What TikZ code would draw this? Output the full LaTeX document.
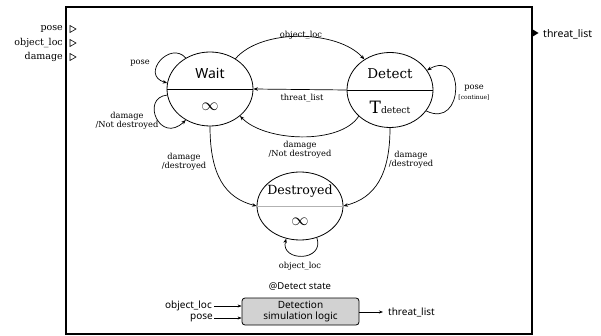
\documentclass[tikz,border=0pt]{standalone}
\usepackage{fontspec}
\setmainfont{DejaVu Serif}
\setsansfont{Noto Sans}
\usetikzlibrary{shapes.geometric,arrows.meta}
\begin{document}
\begin{tikzpicture}[x=1pt,y=-1pt,
  state/.style={ellipse,draw,line width=0.8pt,inner sep=0pt,minimum width=86pt},
  tr/.style={line width=0.7pt,-{Stealth[length=4.5pt,width=3.5pt]}},
  lbl/.style={font=\fontsize{8.3}{9.5}\selectfont,align=center,inner sep=0pt},
  inlbl/.style={font=\fontsize{9.5}{10}\selectfont,anchor=east,inner sep=0pt},
  sflbl/.style={font=\sffamily\fontsize{10}{11}\selectfont,inner sep=0pt},
  inf/.style={font=\fontsize{17}{17}\selectfont,inner sep=0pt}]
\useasboundingbox (0,0) rectangle (601,336);
% outer box
\draw[line width=1.4pt] (66,7) rectangle (532,334);
% inputs
\foreach \n/\t/\y in {ip/pose/29, io/object\_loc/43, id/damage/57}{
  \node[inlbl] (\n) at (63,\y) {\t};
  \draw[line width=0.6pt] (70,\y-3.5) -- (76,\y) -- (70,\y+3.5) -- cycle;
}
% output
\fill (532,29) -- (538.5,33) -- (532,37) -- cycle;
\node[sflbl,anchor=west,font=\sffamily\fontsize{10.5}{11}\selectfont] (out) at (543,34) {threat\_list};
% states
\node[state,minimum height=74pt] (W) at (210,89) {};
\node[state,minimum height=75pt] (D) at (390,90) {};
\node[state,minimum height=68pt] (X) at (300,206) {};
\draw[line width=0.7pt] (W.west) -- (W.east);
\draw[line width=0.7pt] (D.west) -- (D.east);
\draw[line width=0.5pt,gray!60] (X.west) -- (X.east);
\node[font=\sffamily\fontsize{14}{14}\selectfont,inner sep=0pt] (wt) at (210,73) {Wait};
\node[inf] (wi) at (210,107) {$\infty$};
\node[font=\fontsize{13.5}{14}\selectfont,inner sep=0pt] (dt) at (390,74) {Detect};
\node[inner sep=0pt] (di) at (390,107) {{\fontsize{17}{17}\selectfont T}{\fontsize{9.2}{10}\selectfont detect}};
\node[font=\fontsize{12.6}{13}\selectfont,inner sep=0pt] (xt) at (300,191) {Destroyed};
\node[inf] (xi) at (300,222) {$\infty$};
% transitions
\draw[tr] (W.50) .. controls (262,28) and (338,30) .. (D.130);
\node[lbl] (l1) at (301,35) {object\_loc};
\draw[tr] (D.west) -- (W.east);
\node[lbl] (l2) at (302,98) {threat\_list};
\draw[tr] (D.-140) .. controls (340,145) and (265,142) .. (W.-42);
\node[lbl] (l3) at (300,150) {damage\\/Not destroyed};
% Wait self loops
\draw[tr] (W.128) .. controls (170,40) and (140,75) .. (W.172);
\node[lbl] (l4) at (140,63) {pose};
\draw[tr] (W.188) .. controls (140,98) and (160,145) .. (W.-128);
\node[lbl] (l5) at (127,121) {damage\\/Not destroyed};
% Detect self loop
\draw[tr] (D.-30) .. controls (465,130) and (465,48) .. (D.28);
\node[lbl] (l6) at (474,88) {pose};
\node[lbl,font=\fontsize{6}{7}\selectfont] (l6b) at (474,98) {[continue]};
% to Destroyed
\draw[tr] (W.-90) .. controls (210,175) and (225,198) .. (X.west);
\node[lbl] (l7) at (184,162) {damage\\/destroyed};
\draw[tr] (D.-90) .. controls (390,175) and (375,198) .. (X.east);
\node[lbl] (l8) at (411,160) {damage\\/destroyed};
% Destroyed self loop
\draw[tr] (X.-62) .. controls (325,262) and (280,262) .. (X.-113);
\node[lbl] (l9) at (300,266) {object\_loc};
% bottom detection block
\node[sflbl,font=\sffamily\fontsize{9.5}{10}\selectfont] (ds) at (300,287) {@Detect state};
\node[draw,line width=0.8pt,fill=gray!35,rounded corners=3pt,minimum width=117pt,minimum height=27pt,inner sep=0pt,align=center,font=\sffamily\fontsize{10}{11.5}\selectfont] (B) at (300.5,311.5) {Detection\\simulation logic};
\node[sflbl,anchor=east] (bo) at (212,306) {object\_loc};
\node[sflbl,anchor=east] (bp) at (213,318) {pose};
\coordinate (bo2) at (B.west |- bo);
\coordinate (bp2) at (B.west |- bp);
\draw[line width=0.6pt,-{Stealth[length=4pt,width=3pt]}] (bo.east) ++(2,0) -- (bo2);
\draw[line width=0.6pt,-{Stealth[length=4pt,width=3pt]}] (bp.east) ++(1,0) -- (bp2);
\node[sflbl,anchor=west] (bt) at (388,312) {threat\_list};
\coordinate (bt1) at (B.east |- bt);
\draw[line width=0.6pt,-{Stealth[length=4pt,width=3pt]}] (bt1) -- ([xshift=-5pt]bt.west);
\end{tikzpicture}
\end{document}
